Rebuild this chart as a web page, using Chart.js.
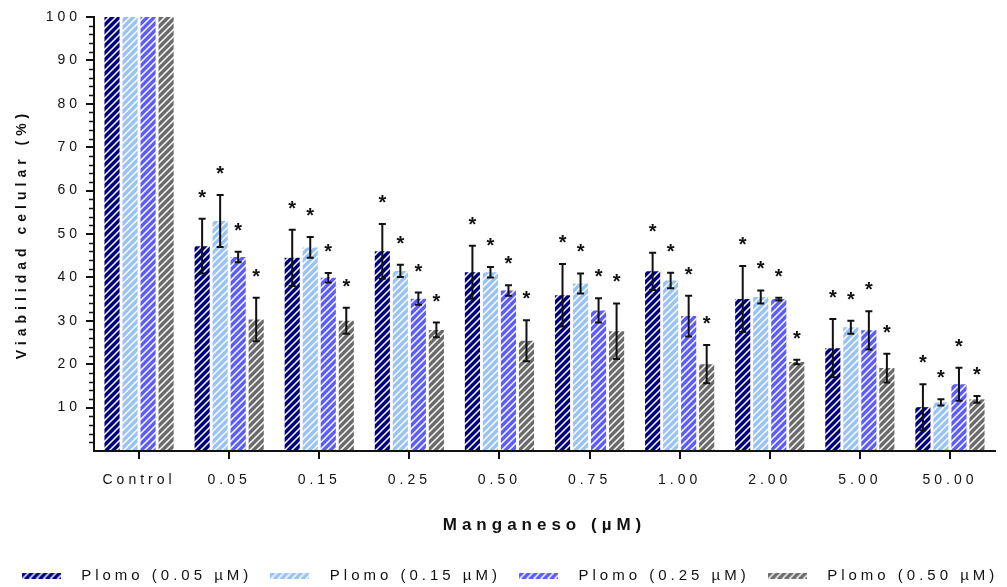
<!DOCTYPE html>
<html>
<head>
<meta charset="utf-8">
<script src="https://cdn.jsdelivr.net/npm/chart.js@4.4.1/dist/chart.umd.min.js"></script>
<style>
  html, body { margin: 0; padding: 0; background: #fff; }
  canvas { display: block; }
</style>
</head>
<body>
<canvas id="chart" width="1007" height="587"></canvas>
<script>
/* Viabilidad celular: plomo + manganeso */

const categories = ['Control', '0.05', '0.15', '0.25', '0.50', '0.75', '1.00', '2.00', '5.00', '50.00'];
const seriesLabels = ['Plomo (0.05 µM)', 'Plomo (0.15 µM)', 'Plomo (0.25 µM)', 'Plomo (0.50 µM)'];

const plomo005 = [100, 47.2, 44.5, 46.0, 41.2, 35.9, 41.4, 35.0, 23.7, 10.1];
const plomo015 = [100, 53.0, 46.9, 41.5, 41.2, 38.6, 39.3, 35.5, 28.5, 11.2];
const plomo025 = [100, 44.7, 39.9, 35.1, 37.0, 32.4, 31.1, 35.0, 27.8, 15.4];
const plomo050 = [100, 30.3, 30.0, 27.9, 25.4, 27.6, 20.0, 20.5, 19.1, 11.9];

const plomo005Err = [0, 6.3, 6.5, 6.3, 6.1, 7.2, 4.3, 7.6, 6.7, 5.3];
const plomo015Err = [0, 6.0, 2.4, 1.4, 1.2, 2.3, 1.8, 1.5, 1.5, 0.7];
const plomo025Err = [0, 1.2, 1.1, 1.4, 1.2, 2.8, 4.7, 0.3, 4.4, 3.8];
const plomo050Err = [0, 5.0, 3.0, 1.7, 4.7, 6.4, 4.4, 0.5, 3.3, 0.8];

// asterisk (significant vs control)
const marked = [false, true, true, true, true, true, true, true, true, true];

const yTicks = [10, 20, 30, 40, 50, 60, 70, 80, 90, 100];

const seriesColors = ['#00007f', '#99c3f2', '#5c5cff', '#6b6b6b'];
const FONT = '"Liberation Sans", Arial, sans-serif';
const INK = '#111';

const values = [plomo005, plomo015, plomo025, plomo050];
const errors = [plomo005Err, plomo015Err, plomo025Err, plomo050Err];

function hatchTile(color) {
    const s = 7;
    const c = document.createElement('canvas');
    c.width = s; c.height = s;
    const g = c.getContext('2d');
    g.fillStyle = color;
    g.fillRect(0, 0, s, s);
    g.strokeStyle = '#fff';
    g.lineWidth = 1.5;
    g.beginPath();
    g.moveTo(0, s); g.lineTo(s, 0);
    g.moveTo(-1, 1); g.lineTo(1, -1);
    g.moveTo(s - 1, s + 1); g.lineTo(s + 1, s - 1);
    g.stroke();
    return c;
}

function legendSwatch(color) {
    const c = document.createElement('canvas');
    c.width = 39; c.height = 6;
    const g = c.getContext('2d');
    g.fillStyle = g.createPattern(hatchTile(color), 'repeat');
    g.fillRect(0, 0, 39, 6);
    return c;
}

const canvas = document.getElementById('chart');
const mainCtx = canvas.getContext('2d');
const patterns = seriesColors.map(c => mainCtx.createPattern(hatchTile(c), 'repeat'));
const swatches = seriesColors.map(legendSwatch);

const textSpacing = {
    id: 'textSpacing',
    beforeLayout(chart) { chart.ctx.letterSpacing = '4px'; },
    beforeDraw(chart) { chart.ctx.letterSpacing = '4px'; },
    afterDatasetsDraw(chart) {
        const ctx = chart.ctx;
        const y = chart.scales.y;
        ctx.save();
        ctx.letterSpacing = '0px';
        ctx.strokeStyle = INK;
        ctx.fillStyle = INK;
        ctx.lineWidth = 2;
        ctx.font = 'bold 20px ' + FONT;
        ctx.textAlign = 'center';
        ctx.textBaseline = 'alphabetic';
        chart.data.datasets.forEach((ds, di) => {
            const meta = chart.getDatasetMeta(di);
            meta.data.forEach((bar, i) => {
                const v = ds.data[i];
                const e = errors[di][i];
                const top = y.getPixelForValue(v + e);
                const bot = y.getPixelForValue(v - e);
                if (e > 0) {
                    ctx.beginPath();
                    ctx.moveTo(bar.x, top); ctx.lineTo(bar.x, bot);
                    ctx.moveTo(bar.x - 3.5, top); ctx.lineTo(bar.x + 3.5, top);
                    ctx.moveTo(bar.x - 3.5, bot); ctx.lineTo(bar.x + 3.5, bot);
                    ctx.stroke();
                }
                if (marked[i]) ctx.fillText('*', bar.x, top - 15);
            });
        });
        ctx.restore();
        // axis titles come next (grid layer z = 1)
        ctx.letterSpacing = '5px';
    },
    afterDraw(chart) {
        const ctx = chart.ctx;
        const y = chart.scales.y;
        ctx.save();
        ctx.strokeStyle = INK;
        ctx.lineWidth = 1.5;
        ctx.beginPath();
        y.ticks.forEach(t => {
            if (t.value % 10 === 0) return;
            const py = Math.round(y.getPixelForValue(t.value)) + 0.5;
            ctx.moveTo(y.right - 5, py);
            ctx.lineTo(y.right, py);
        });
        ctx.stroke();
        ctx.restore();
    }
};

new Chart(canvas, {
    type: 'bar',
    data: {
        labels: categories,
        datasets: values.map((data, i) => ({
            label: seriesLabels[i],
            data: data,
            yAxisID: 'y',
            backgroundColor: patterns[i],
            borderWidth: 0,
            categoryPercentage: 0.8,
            barPercentage: 0.84
        }))
    },
    options: {
        responsive: false,
        animation: false,
        devicePixelRatio: 1,
        layout: { padding: { top: 17, right: 0, left: 0, bottom: -6 } },
        scales: {
            x: {
                offset: true,
                grid: { display: true, drawOnChartArea: false, offset: false, tickLength: 8, lineWidth: 2, color: INK, z: 1 },
                border: { display: true, color: INK, width: 2, z: 1 },
                ticks: { color: INK, padding: 13, maxRotation: 0, autoSkip: false, font: { family: FONT, size: 14 } },
                title: { display: true, text: 'Manganeso (µM)', color: INK, padding: { top: 4, bottom: 27 },
                         font: { family: FONT, size: 17, weight: 'bold' } },
                afterFit(scale) { scale.height = 112; }
            },
            y: {
                min: 0,
                max: 100,
                grid: {
                    display: true, drawOnChartArea: false, tickLength: 8, lineWidth: 2, z: 1,
                    color: ctx => (ctx.tick && ctx.tick.value % 10 === 0 && ctx.tick.value > 0) ? INK : 'rgba(0,0,0,0)'
                },
                border: { display: true, color: INK, width: 2, z: 1 },
                ticks: {
                    stepSize: 2,
                    autoSkip: false,
                    color: INK,
                    padding: 5,
                    font: { family: FONT, size: 14 },
                    callback: v => yTicks.includes(v) ? String(v) : ''
                },
                title: { display: true, text: 'Viabilidad celular (%)', color: INK, padding: { top: 14, bottom: 0 },
                         font: { family: FONT, size: 14, weight: 'bold' } },
                afterFit(scale) { scale.width = 94; }
            },
            // empty spacer on the right so the plot ends where the original does
            spacer: {
                type: 'linear',
                position: 'right',
                grid: { display: false },
                border: { display: false },
                ticks: { display: false },
                afterFit(scale) { scale.width = 12; }
            }
        },
        plugins: {
            legend: {
                position: 'bottom',
                labels: {
                    usePointStyle: true,
                    pointStyleWidth: 65,
                    boxHeight: 6,
                    padding: 5,
                    color: INK,
                    font: { family: FONT, size: 15 },
                    generateLabels(chart) {
                        return Chart.defaults.plugins.legend.labels.generateLabels(chart)
                            .map((item, i) => Object.assign(item, { pointStyle: swatches[i], lineWidth: 0 }));
                    }
                }
            },
            tooltip: { enabled: false }
        }
    },
    plugins: [textSpacing]
});
</script>
</body>
</html>
